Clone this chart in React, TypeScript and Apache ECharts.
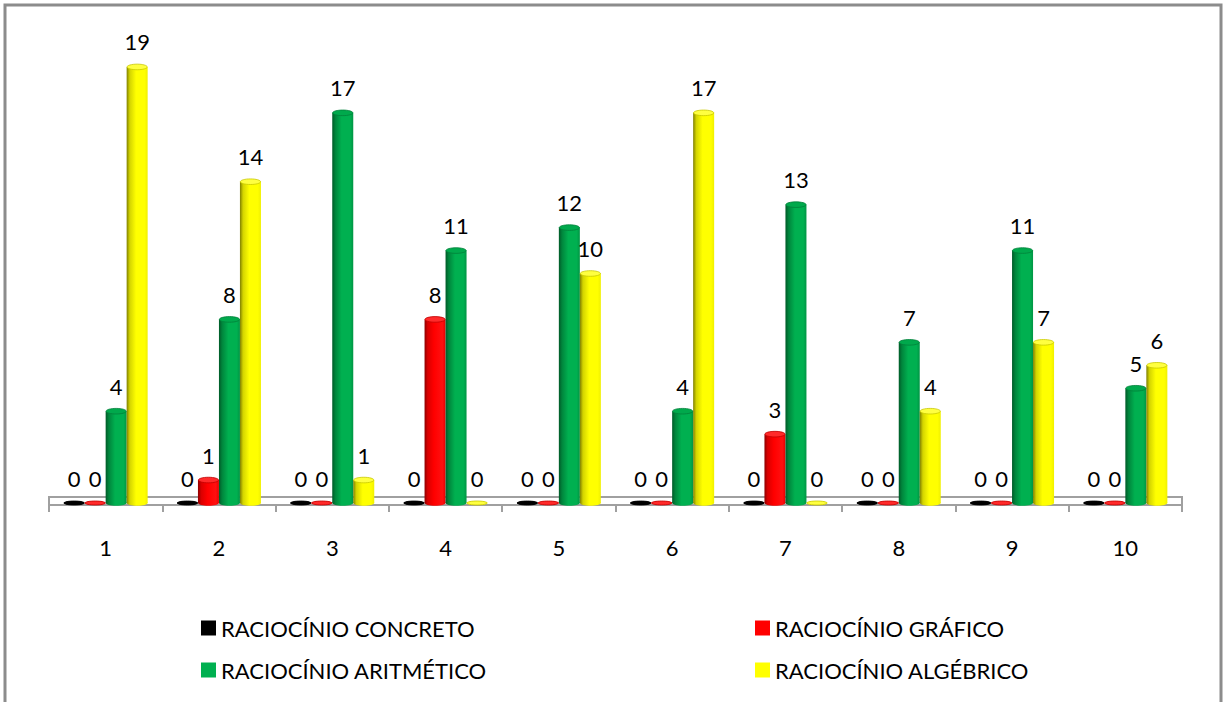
import React, { useEffect, useRef } from "react";
import * as echarts from "echarts";

const categories = ["1", "2", "3", "4", "5", "6", "7", "8", "9", "10"];
const seriesNames = [
  "RACIOCÍNIO CONCRETO",
  "RACIOCÍNIO GRÁFICO",
  "RACIOCÍNIO ARITMÉTICO",
  "RACIOCÍNIO ALGÉBRICO",
];
const concreto = [0, 0, 0, 0, 0, 0, 0, 0, 0, 0];
const grafico = [0, 1, 0, 8, 0, 0, 3, 0, 0, 0];
const aritmetico = [4, 8, 17, 11, 12, 4, 13, 7, 11, 5];
const algebrico = [19, 14, 1, 0, 10, 17, 0, 4, 7, 6];

const FONT = "Lato, 'Open Sans', sans-serif";
const BAR_W = 21;

const palettes = [
  {
    legend: "#000000",
    stops: ["#000000", "#1a1a1a", "#333333", "#1a1a1a", "#000000"],
    cap: "#000000",
    capStroke: "#000000",
  },
  {
    legend: "#ff0000",
    stops: ["#8c0000", "#d90000", "#ff0000", "#ff1010", "#e60000"],
    cap: "#ff2a2a",
    capStroke: "#c00000",
  },
  {
    legend: "#00b050",
    stops: ["#005a28", "#00853c", "#00b050", "#00b050", "#009444"],
    cap: "#00a94c",
    capStroke: "#00803a",
  },
  {
    legend: "#ffff00",
    stops: ["#7f7f00", "#d4d400", "#ffff00", "#ffff00", "#f0f000"],
    cap: "#ffff40",
    capStroke: "#c8c800",
  },
];

function grad(stops: string[]) {
  return new echarts.graphic.LinearGradient(0, 0, 1, 0, [
    { offset: 0, color: stops[0] },
    { offset: 0.15, color: stops[1] },
    { offset: 0.45, color: stops[2] },
    { offset: 0.85, color: stops[3] },
    { offset: 1, color: stops[4] },
  ]);
}

export default function App() {
  const ref = useRef<HTMLDivElement>(null);

  useEffect(() => {
    if (!ref.current) return;
    const chart = echarts.init(ref.current, null, { renderer: "svg" });
    const allValues = [concreto, grafico, aritmetico, algebrico];

    const barSeries = allValues.map((vals, i) => ({
      type: "bar",
      name: seriesNames[i],
      data: vals,
      barWidth: BAR_W,
      barGap: "0%",
      z: 3,
      itemStyle: { color: grad(palettes[i].stops) },
      label: {
        show: true,
        position: "top",
        distance: 14,
        color: "#000",
        fontSize: 22,
        fontFamily: FONT,
      },
    }));

    const capSeries = allValues.map((vals, i) => ({
      type: "custom",
      name: seriesNames[i],
      data: vals.map((v, j) => [j, v]),
      encode: { x: 0, y: 1 },
      z: 4,
      itemStyle: { color: palettes[i].legend },
      renderItem: (params: any, api: any) => {
        const cat = api.value(0);
        const val = api.value(1);
        const top = api.coord([cat, val]);
        const base = api.coord([cat, 0]);
        const cx = top[0] + (i - 1.5) * BAR_W;
        const isZero = val === 0;
        return {
          type: "group",
          children: [
            {
              type: "ellipse",
              shape: { cx, cy: base[1], rx: BAR_W / 2, ry: isZero ? 2 : 2.8 },
              style: { fill: isZero ? palettes[i].cap : grad(palettes[i].stops) },
            },
            {
              type: "ellipse",
              shape: { cx, cy: top[1], rx: BAR_W / 2 - 0.4, ry: isZero ? 2 : 2.8 },
              style: {
                fill: palettes[i].cap,
                stroke: palettes[i].capStroke,
                lineWidth: 0.8,
              },
            },
          ],
        };
      },
    }));

    const legendCommon = {
      orient: "vertical",
      top: 612,
      icon: "rect",
      itemWidth: 15,
      itemHeight: 15,
      itemGap: 20,
      textStyle: { fontSize: 22, fontFamily: FONT, color: "#000" },
    };
    const legendItem = (i: number) => ({
      name: seriesNames[i],
      itemStyle: { color: palettes[i].legend },
    });

    chart.setOption({
      animation: false,
      backgroundColor: "#ffffff",
      color: palettes.map((p) => p.legend),
      grid: { left: 49, right: 43, top: 44, height: 459 },
      legend: [
        { ...legendCommon, left: 196, data: [legendItem(0), legendItem(2)] },
        { ...legendCommon, left: 750, data: [legendItem(1), legendItem(3)] },
      ],
      xAxis: {
        type: "category",
        data: categories,
        offset: 2,
        axisLine: { show: true, lineStyle: { color: "#a0a0a0", width: 2 } },
        axisTick: {
          show: true,
          length: 9,
          lineStyle: { color: "#a0a0a0", width: 2 },
        },
        axisLabel: {
          margin: 31,
          fontSize: 22,
          fontFamily: FONT,
          color: "#000",
        },
      },
      yAxis: {
        type: "value",
        min: 0,
        max: 20,
        show: false,
        splitLine: { show: false },
      },
      graphic: [
        {
          type: "rect",
          z: 1,
          shape: { x: 5, y: 5, width: 1216, height: 730 },
          style: { fill: "none", stroke: "#8c8c8c", lineWidth: 3 },
        },
        {
          type: "rect",
          z: 1,
          shape: { x: 49, y: 497, width: 1133, height: 8 },
          style: { fill: "#ffffff", stroke: "#a0a0a0", lineWidth: 2 },
        },
      ],
      series: [...barSeries, ...capSeries],
    });

    return () => chart.dispose();
  }, []);

  return (
    <div
      ref={ref}
      style={{
        position: "fixed",
        left: 0,
        top: 0,
        width: 1225,
        height: 702,
      }}
    />
  );
}
